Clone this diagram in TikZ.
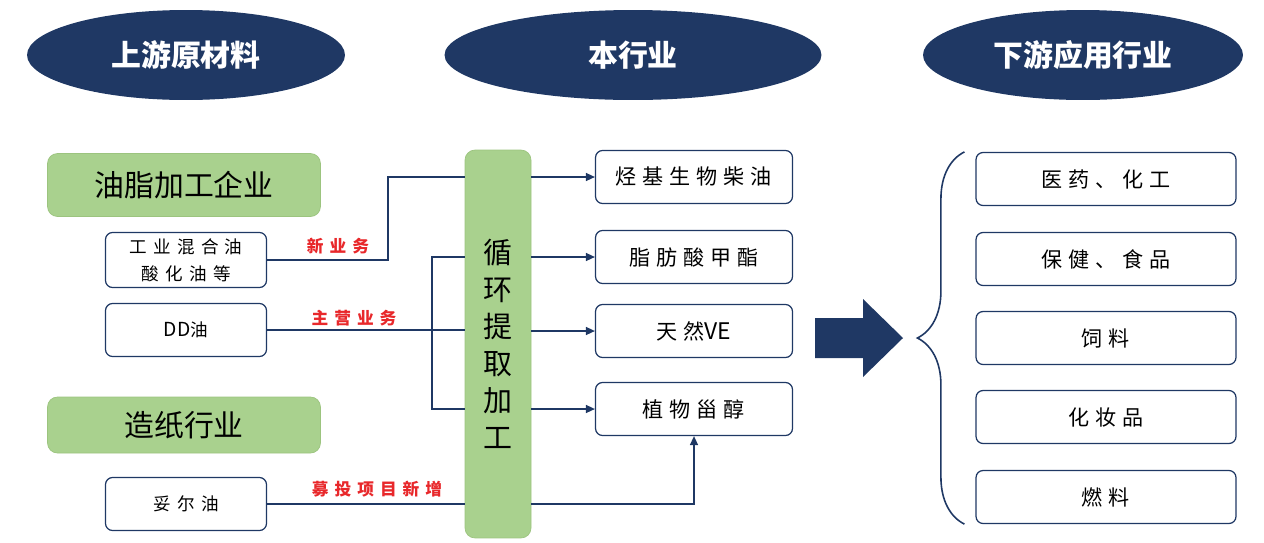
\documentclass[tikz,border=0pt]{standalone}
\usepackage{fontspec}
\newfontfamily\cjk{Noto Sans CJK SC}
\newfontfamily\cjkwide[LetterSpace=28]{Noto Sans CJK SC}
\newfontfamily\cjkwider[LetterSpace=36]{Noto Sans CJK SC}
\usetikzlibrary{arrows.meta,shapes.geometric,decorations.pathreplacing}
\definecolor{navy}{HTML}{1F3864}
\definecolor{leaf}{HTML}{A9D18E}
\definecolor{leafedge}{HTML}{9CC47F}
\definecolor{tagred}{HTML}{E8282B}

\begin{document}
\begin{tikzpicture}[
    x=0.02cm, y=-0.02cm,
    head/.style={ellipse, fill=navy, text=white, inner sep=0pt, minimum height=1.8cm, font=\cjk\bfseries\fontsize{17}{20}\selectfont},
    group/.style={rectangle, rounded corners=0.2cm, fill=leaf, draw=leafedge, minimum width=5.46cm, font=\cjk\fontsize{17}{20}\selectfont},
    src/.style={rectangle, rounded corners=0.14cm, draw=navy, line width=0.7pt, fill=white, minimum width=3.22cm, minimum height=1.06cm, align=center, font=\cjkwider\fontsize{10}{15.4}\selectfont},
    prod/.style={src, minimum width=3.94cm, font=\cjkwide\fontsize{12}{14}\selectfont},
    use/.style={src, minimum width=5.2cm, font=\cjkwide\fontsize{12}{14}\selectfont},
    tag/.style={text=tagred, inner sep=0pt, font=\cjkwider\bfseries\fontsize{9.5}{11}\selectfont},
    line/.style={draw=navy, line width=0.8pt},
    arrow/.style={line, -{Triangle[length=1.8mm,width=1.6mm]}}
]
\useasboundingbox (0,0) rectangle (1264,542);

% column headings
\node[head, minimum width=6.36cm] (up) at (186,55) {上游原材料};
\node[head, minimum width=7.54cm] (mid) at (633,55) {本行业};
\node[head, minimum width=6.4cm] (down) at (1083,55) {下游应用行业};

% upstream
\node[group, minimum height=1.26cm] (oil) at (184,185) {油脂加工企业};
\node[group, minimum height=1.12cm] (paper) at (184,425) {造纸行业};
\node[src, minimum height=1.08cm] (mix) at (186,260) {工业混合油\\酸化油等};
\node[src] (dd) at (186,330) {{\cjk\fontsize{11}{13}\selectfont DD}油};
\node[src] (tall) at (186,504) {妥尔油};

% processing bar
\node[rectangle, rounded corners=0.2cm, fill=leaf, draw=leafedge, minimum width=1.32cm, minimum height=7.76cm, align=center, font=\cjk\fontsize{16.5}{21}\selectfont] (bar) at (498,344) {循\\环\\提\\取\\加\\工};

% products
\node[prod] (bio) at (694,177) {烃基生物柴油};
\node[prod] (fame) at (694,257) {脂肪酸甲酯};
\node[prod] (ve) at (694,331) {天然{\cjk\fontsize{13}{14}\selectfont VE}};
\node[prod] (ster) at (694,409) {植物甾醇};

% downstream
\node[use] (med) at (1106,179) {医药、化工};
\node[use] (health) at (1106,259) {保健、食品};
\node[use] (feed) at (1106,338) {饲料};
\node[use] (cosm) at (1106,417) {化妆品};
\node[use] (fuel) at (1106,497) {燃料};

% inputs
\draw[line] (mix.east) -| (388,177) -- (bar.west |- bio.west);
\draw[line] (dd.east) -- (bar.west |- dd.east);
\draw[line] (bar.west |- fame.west) -| (432,330) |- (bar.west |- ster.west);
\draw[line] (tall.east) -- (bar.west |- tall.east);
\node[tag] (newbiz) at (338,246) {新业务};
\node[tag] (mainbiz) at (354,318) {主营业务};
\node[tag] (ipo) at (377,489) {募投项目新增};

% outputs
\draw[arrow] (bar.east |- bio.west) -- (bio.west);
\draw[arrow] (bar.east |- fame.west) -- (fame.west);
\draw[arrow] (bar.east |- ve.west) -- (ve.west);
\draw[arrow] (bar.east |- ster.west) -- (ster.west);
\draw[arrow] (bar.east |- tall.east) -| (ster.south);

% big arrow and brace
\fill[navy] (815,318) -- (863,318) -- (863,299) -- (903,338) -- (863,377) -- (863,358) -- (815,358) -- cycle;
\draw[navy, line width=0.9pt, decorate, decoration={brace, amplitude=0.94cm, aspect=0.5}]
    ([xshift=-0.22cm]fuel.south west) -- ([xshift=-0.22cm]med.north west);
\end{tikzpicture}
\end{document}
